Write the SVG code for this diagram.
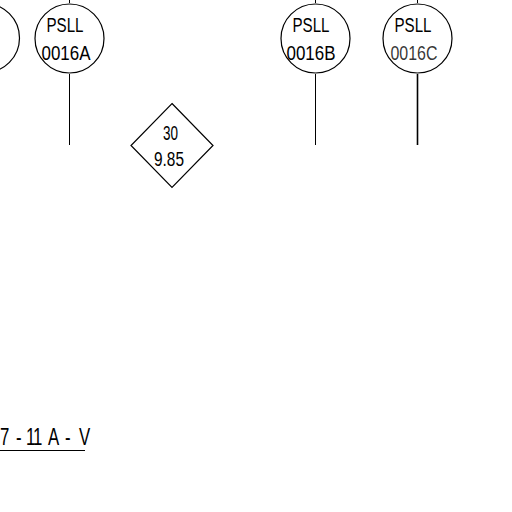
<svg xmlns="http://www.w3.org/2000/svg" width="512" height="512" viewBox="0 0 512 512">
<style>
.s{fill:none;stroke:#000;stroke-width:1.2}
.c{stroke:#000;stroke-width:1;fill:none}
text{font-family:"Liberation Sans",Arial,sans-serif;fill:#000;text-anchor:middle}
.t{font-size:20px}
</style>
<rect width="512" height="512" fill="#fff"/>
<g id="connectors">
<path class="c" d="M69.500 74V145"/>
<path class="c" d="M315.500 74V145"/>
<path d="M417.500 74V145" fill="none" stroke="#000" stroke-width="1.600"/>
<path class="c" d="M69.500 0V3M315.500 0V3M417.500 0V3"/>
<path class="c" d="M0 450.500H85"/>
</g>
<g id="node-left"><circle class="s" cx="-15" cy="38" r="34.500"/></g>
<g id="node-0016a"><circle class="s" cx="69.500" cy="38.500" r="34.500"/>
<text class="t" x="65" y="32" textLength="37" lengthAdjust="spacingAndGlyphs">PSLL</text>
<text class="t" x="66" y="60" textLength="49" lengthAdjust="spacingAndGlyphs">0016A</text></g>
<g id="node-0016b"><circle class="s" cx="315.500" cy="38.500" r="34.500"/>
<text class="t" x="311" y="32" textLength="37" lengthAdjust="spacingAndGlyphs">PSLL</text>
<text class="t" x="311" y="60" textLength="49" lengthAdjust="spacingAndGlyphs">0016B</text></g>
<g id="node-0016c"><circle class="s" cx="417.500" cy="38.500" r="34.500"/>
<text class="t" x="413" y="32" textLength="37" lengthAdjust="spacingAndGlyphs">PSLL</text>
<text class="t" x="414" y="60" textLength="47" lengthAdjust="spacingAndGlyphs" fill-opacity=".8">0016C</text></g>
<g id="node-diamond"><path class="s" d="M172 103.500L213 145.500L172 187.500L131 145.500Z"/>
<text class="t" x="170.500" y="140" textLength="15" lengthAdjust="spacingAndGlyphs">30</text>
<text class="t" x="169" y="166" textLength="30" lengthAdjust="spacingAndGlyphs">9.85</text></g>
<text transform="scale(.7 1)" x="0 23 37 47 68.500 93 113" y="445" font-size="24" style="text-anchor:start">7-11A-V</text>
</svg>
